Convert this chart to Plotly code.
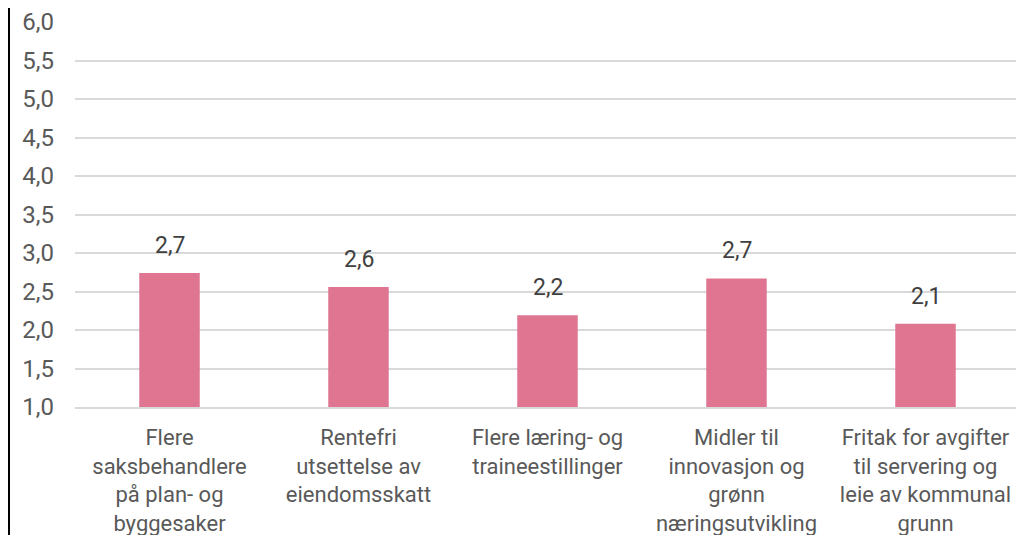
import plotly.graph_objects as go

categories = [
    "Flere<br>saksbehandlere<br>på plan- og<br>byggesaker",
    "Rentefri<br>utsettelse av<br>eiendomsskatt",
    "Flere læring- og<br>traineestillinger",
    "Midler til<br>innovasjon og<br>grønn<br>næringsutvikling",
    "Fritak for avgifter<br>til servering og<br>leie av kommunal<br>grunn",
]
values = [2.74, 2.56, 2.19, 2.67, 2.08]
y_ticks = [1.0, 1.5, 2.0, 2.5, 3.0, 3.5, 4.0, 4.5, 5.0, 5.5, 6.0]

fig = go.Figure(
    go.Bar(
        x=categories,
        y=values,
        marker=dict(color="#E07592", line=dict(width=0)),
        hoverinfo="x+y",
    )
)

for c, v in zip(categories, values):
    fig.add_annotation(
        x=c, y=v, xref="x", yref="y",
        text=f"{v:.1f}".replace(".", ","),
        showarrow=False,
        yanchor="bottom",
        yshift=12,
        font=dict(family="Roboto", size=23, color="#404040"),
    )

# page body has an 8px margin, so the figure is sized/placed to compensate
fig.update_layout(
    width=1016,
    height=527,
    margin=dict(l=67, r=4, t=14, b=128, autoexpand=False),
    paper_bgcolor="white",
    plot_bgcolor="white",
    separators=", ",
    bargap=0.68,
    showlegend=False,
    font=dict(family="Roboto", size=23, color="#595959"),
)
fig.update_yaxes(
    range=[1, 6],
    tickvals=y_ticks,
    tickformat=".1f",
    showgrid=True,
    gridcolor="#D9D9D9",
    gridwidth=1.5,
    zeroline=False,
    showline=False,
    ticks="",
    automargin=False,
    ticklabelstandoff=20,
    tickfont=dict(family="Roboto", size=24, color="#595959"),
)
fig.update_xaxes(
    showgrid=False,
    showline=True,
    linecolor="#D9D9D9",
    linewidth=1.5,
    ticks="",
    automargin=False,
    ticklabelstandoff=10,
    tickfont=dict(family="Roboto", size=22, color="#595959"),
)
fig.add_shape(
    type="line",
    xref="paper", yref="paper",
    x0=-66 / 945, x1=-66 / 945,
    y0=-128 / 385, y1=1 + 14 / 385,
    line=dict(color="black", width=2),
)

fig.write_html("out.html")
